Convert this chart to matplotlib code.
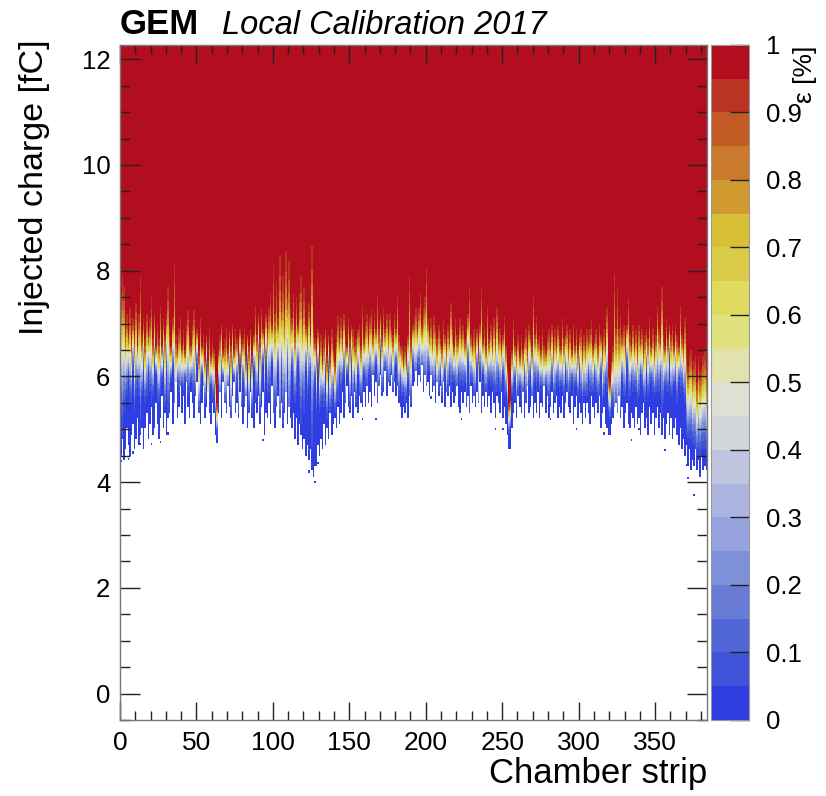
#!/usr/bin/env python3
"""GEM local calibration 2017: per-strip S-curve efficiency map."""

import math

import numpy as np
import matplotlib

matplotlib.use("Agg")
import matplotlib.pyplot as plt
from matplotlib.colors import ListedColormap, BoundaryNorm

plt.rcParams["font.family"] = ["Liberation Sans", "DejaVu Sans"]

# charge [fC] at which each strip reaches ~95 % efficiency (start of red)
Q_TOP = [
    7.5, 7.9, 7.7, 6.9, 7.2, 6.8, 7.3, 6.7, 7.1, 6.8, 7.4, 6.6, 7.2, 7.9, 6.8, 7.1,
    6.7, 7.2, 6.8, 7.1, 7.5, 6.7, 7.2, 6.6, 7.0, 6.7, 7.35, 6.6, 7.1, 6.8, 7.2, 7.7,
    6.9, 6.6, 7.1, 8.1, 6.8, 6.5, 6.9, 7.1, 6.6, 6.9, 6.5, 7.0, 7.25, 6.7, 6.6, 7.0,
    7.25, 6.6, 6.9, 6.5, 7.1, 6.6, 6.8, 6.4, 6.8, 6.3, 6.9, 6.4, 6.7, 6.5, 6.0, 5.5,
    6.5, 6.8, 7.0, 6.5, 6.7, 6.95, 6.5, 6.9, 6.6, 7.0, 6.5, 6.9, 6.7, 6.4, 6.9, 6.6,
    6.7, 6.95, 6.4, 6.8, 6.6, 6.9, 6.4, 6.8, 7.35, 6.8, 7.2, 6.7, 7.3, 6.9, 6.7, 7.2,
    6.9, 7.3, 7.6, 7.0, 8.1, 7.2, 7.8, 7.1, 8.3, 7.3, 7.9, 7.2, 8.4, 7.5, 8.2, 7.3,
    7.1, 7.6, 6.9, 7.5, 7.0, 7.6, 7.9, 7.1, 7.7, 7.0, 6.9, 7.4, 6.8, 8.45, 7.0, 6.7,
    6.5, 6.9, 6.4, 6.8, 6.3, 6.7, 6.9, 6.4, 6.8, 6.4, 6.9, 6.5, 6.3, 6.8, 7.15, 6.7,
    7.1, 6.7, 7.2, 6.8, 6.6, 7.1, 6.7, 7.0, 6.9, 6.6, 6.7, 6.9, 7.0, 6.6, 7.35, 6.7,
    7.0, 7.2, 6.7, 7.1, 7.3, 6.8, 7.2, 6.9, 7.55, 6.9, 7.2, 6.8, 7.3, 6.9, 7.2, 6.8,
    7.2, 6.9, 6.8, 7.2, 6.9, 7.5, 6.8, 6.6, 6.6, 6.3, 6.6, 6.3, 6.8, 7.9, 6.7, 7.0,
    7.1, 7.3, 6.9, 7.3, 7.6, 7.0, 7.3, 7.5, 8.05, 7.1, 6.8, 7.1, 6.7, 7.15, 6.9, 6.7,
    7.0, 6.7, 6.6, 7.05, 6.8, 6.6, 7.0, 6.7, 7.4, 6.9, 6.6, 7.1, 6.8, 6.7, 7.1, 6.8,
    7.0, 6.7, 6.9, 7.2, 7.7, 6.8, 6.6, 6.9, 6.6, 6.9, 6.5, 7.0, 7.65, 6.7, 7.0, 6.6,
    7.3, 6.7, 7.0, 6.6, 7.1, 6.7, 7.3, 6.7, 6.9, 6.6, 6.8, 7.15, 6.6, 6.2, 5.5, 5.6,
    6.5, 7.05, 6.6, 6.5, 6.8, 6.4, 6.8, 6.5, 6.7, 6.9, 6.5, 7.0, 6.8, 6.6, 7.5, 6.8,
    7.15, 6.7, 6.8, 6.5, 6.9, 6.6, 6.5, 6.8, 6.9, 6.6, 7.0, 6.5, 6.9, 6.6, 7.0, 6.7,
    6.6, 7.1, 6.7, 6.8, 7.0, 6.6, 6.9, 6.5, 7.0, 6.6, 6.9, 6.5, 6.8, 6.9, 6.5, 6.8,
    6.6, 6.9, 6.7, 6.9, 7.05, 6.6, 6.7, 6.9, 6.6, 7.0, 6.8, 6.5, 6.9, 6.6, 7.3, 6.0,
    5.9, 6.3, 6.6, 7.95, 6.9, 7.65, 6.9, 7.15, 6.8, 7.0, 6.6, 7.0, 7.45, 6.8, 6.6, 7.0,
    6.6, 6.9, 6.5, 7.0, 6.7, 6.9, 6.5, 6.8, 6.9, 6.7, 7.1, 6.6, 6.9, 6.5, 6.8, 7.35,
    6.9, 6.7, 7.7, 6.8, 6.6, 7.1, 6.7, 7.0, 6.8, 7.0, 6.6, 7.0, 6.8, 6.6, 7.35, 6.8,
    6.6, 7.1, 6.5, 6.2, 6.4, 6.5, 6.1, 6.3, 6.4, 5.9, 6.4, 6.1, 6.2, 6.4, 6.5, 6.1,
]

# rise of each S-curve: distance [fC] from the 50 % point up to the red edge
Q_RISE = [
    1.1, 1.5, 1.2, 0.7, 0.8, 0.4, 0.9, 0.6, 0.5, 0.75, 0.9, 0.35, 0.8, 1.5, 0.6, 0.5,
    0.6, 0.8, 0.35, 0.7, 1.0, 0.55, 0.5, 0.3, 0.75, 0.6, 0.85, 0.35, 0.5, 0.7, 0.55, 1.2,
    0.7, 0.35, 0.5, 1.6, 0.75, 0.3, 0.6, 0.8, 0.4, 0.65, 0.3, 0.7, 0.8, 0.5, 0.35, 0.65,
    0.8, 0.5, 0.35, 0.6, 0.75, 0.3, 0.65, 0.45, 0.35, 0.55, 0.7, 0.3, 0.6, 0.45, 0.4, 0.3,
    0.35, 0.7, 0.5, 0.3, 0.65, 0.8, 0.4, 0.45, 0.7, 0.5, 0.3, 0.75, 0.4, 0.55, 0.35, 0.7,
    0.4, 0.75, 0.5, 0.3, 0.65, 0.45, 0.55, 0.35, 0.9, 0.6, 0.45, 0.7, 0.8, 0.35, 0.6, 0.5,
    0.65, 0.8, 1.0, 0.4, 1.6, 0.9, 1.3, 0.5, 1.8, 0.6, 1.4, 0.85, 1.9, 0.7, 1.7, 0.9,
    0.5, 1.0, 0.7, 0.9, 0.4, 1.0, 1.4, 0.75, 1.2, 0.45, 0.7, 0.8, 0.35, 1.9, 0.75, 0.4,
    0.6, 0.4, 0.55, 0.7, 0.35, 0.65, 0.45, 0.6, 0.35, 0.55, 0.75, 0.4, 0.5, 0.65, 0.8, 0.35,
    0.7, 0.4, 0.6, 0.75, 0.3, 0.55, 0.65, 0.4, 0.7, 0.35, 0.6, 0.45, 0.7, 0.5, 0.9, 0.35,
    0.6, 0.75, 0.35, 0.55, 0.8, 0.45, 0.65, 0.35, 1.0, 0.6, 0.4, 0.55, 0.75, 0.4, 0.65, 0.5,
    0.7, 0.4, 0.55, 0.65, 0.35, 0.9, 0.6, 0.35, 0.5, 0.3, 0.55, 0.35, 0.45, 1.4, 0.6, 0.4,
    0.6, 0.75, 0.35, 0.6, 0.95, 0.45, 0.7, 0.85, 1.35, 0.5, 0.35, 0.7, 0.4, 0.75, 0.45, 0.55,
    0.65, 0.35, 0.5, 0.7, 0.4, 0.55, 0.65, 0.3, 0.85, 0.5, 0.35, 0.7, 0.55, 0.35, 0.65, 0.45,
    0.6, 0.4, 0.7, 0.5, 1.2, 0.45, 0.35, 0.65, 0.5, 0.4, 0.6, 0.45, 1.1, 0.35, 0.7, 0.45,
    0.8, 0.4, 0.6, 0.35, 0.7, 0.5, 0.8, 0.35, 0.6, 0.45, 0.4, 0.75, 0.5, 0.4, 0.3, 0.3,
    0.45, 0.7, 0.35, 0.55, 0.6, 0.3, 0.65, 0.45, 0.35, 0.7, 0.5, 0.6, 0.4, 0.55, 0.95, 0.45,
    0.75, 0.4, 0.6, 0.35, 0.65, 0.5, 0.35, 0.6, 0.7, 0.4, 0.55, 0.45, 0.65, 0.35, 0.6, 0.5,
    0.4, 0.7, 0.55, 0.35, 0.65, 0.5, 0.6, 0.3, 0.7, 0.4, 0.55, 0.45, 0.35, 0.65, 0.5, 0.6,
    0.5, 0.65, 0.35, 0.6, 0.7, 0.45, 0.35, 0.6, 0.5, 0.7, 0.4, 0.55, 0.65, 0.35, 0.8, 0.35,
    0.35, 0.4, 0.6, 1.7, 0.8, 1.5, 0.8, 1.0, 0.45, 0.7, 0.5, 0.4, 0.95, 0.6, 0.35, 0.65,
    0.4, 0.6, 0.5, 0.7, 0.35, 0.55, 0.45, 0.65, 0.4, 0.55, 0.7, 0.35, 0.6, 0.45, 0.55, 0.8,
    0.6, 0.35, 1.2, 0.65, 0.4, 0.7, 0.5, 0.35, 0.6, 0.7, 0.4, 0.55, 0.65, 0.35, 0.85, 0.5,
    0.5, 0.8, 0.8, 0.7, 0.8, 0.85, 0.7, 0.8, 0.9, 0.7, 0.9, 0.8, 0.8, 0.9, 0.95, 0.8,
]

# lowest charge with a non-zero efficiency [fC]
Q_LOW = [
    4.5, 4.8, 4.4, 4.6, 5.0, 4.7, 4.5, 4.9, 5.1, 4.6, 4.8, 5.2, 4.7, 4.9, 5.0, 4.6,
    5.0, 5.3, 4.8, 5.1, 5.4, 4.9, 5.0, 5.5, 5.1, 4.8, 5.2, 5.6, 5.0, 5.3, 4.9, 5.2,
    5.3, 5.7, 5.1, 5.5, 5.9, 5.2, 5.4, 5.8, 5.3, 5.6, 5.1, 5.9, 5.4, 5.2, 5.7, 5.5,
    5.2, 5.6, 5.9, 5.3, 5.1, 5.5, 5.8, 5.2, 5.4, 5.7, 5.3, 5.1, 5.5, 5.3, 4.9, 4.75,
    5.3, 5.7, 5.2, 5.9, 5.5, 5.3, 5.8, 5.4, 5.2, 5.6, 5.9, 5.3, 5.5, 5.2, 5.7, 5.4,
    5.1, 5.4, 5.6, 5.0, 5.3, 5.7, 5.2, 5.0, 5.5, 5.3, 5.6, 5.1, 5.4, 5.7, 4.9, 5.3,
    5.2, 5.5, 5.1, 5.8, 5.3, 5.0, 5.4, 5.6, 5.2, 5.5, 5.0, 5.3, 5.7, 5.1, 5.4, 5.2,
    5.0, 5.3, 4.8, 5.2, 4.7, 5.1, 4.9, 4.6, 4.8, 4.5, 4.7, 4.4, 4.6, 4.2, 4.1, 4.3,
    4.3, 4.7, 4.5, 4.8, 4.6, 5.1, 4.7, 5.0, 4.8, 5.3, 4.9, 5.1, 5.2, 5.0, 5.4, 5.1,
    5.3, 5.7, 5.2, 5.5, 5.8, 5.4, 5.3, 5.6, 5.2, 5.7, 5.4, 5.3, 5.6, 5.5, 5.4, 5.7,
    5.4, 5.8, 5.5, 5.7, 5.4, 6.0, 5.6, 5.9, 5.5, 5.8, 6.0, 5.6, 5.7, 6.1, 5.6, 5.9,
    5.8, 6.0, 5.7, 5.9, 5.6, 5.8, 5.5, 5.4, 5.2, 5.4, 5.3, 5.5, 5.2, 5.6, 5.4, 5.8,
    5.9, 6.1, 5.8, 6.0, 5.9, 6.2, 5.7, 6.0, 5.8, 5.9, 5.6, 6.0, 5.7, 5.8, 5.5, 5.9,
    5.6, 5.8, 5.5, 5.9, 5.4, 5.7, 5.6, 5.8, 5.4, 5.7, 5.5, 5.6, 5.8, 5.4, 5.3, 5.7,
    5.5, 5.7, 5.4, 5.6, 5.3, 5.8, 5.5, 5.6, 5.4, 5.7, 5.5, 5.9, 5.3, 5.6, 5.4, 5.7,
    5.4, 5.6, 5.3, 5.7, 5.5, 5.2, 5.6, 5.5, 5.3, 5.7, 5.2, 5.4, 5.1, 4.9, 4.6, 4.6,
    5.0, 5.3, 5.5, 5.2, 5.6, 5.4, 5.3, 5.7, 5.2, 5.5, 5.8, 5.3, 5.4, 5.6, 5.2, 5.5,
    5.3, 5.7, 5.2, 5.5, 5.4, 5.8, 5.3, 5.6, 5.2, 5.4, 5.7, 5.3, 5.5, 5.6, 5.2, 5.4,
    5.3, 5.6, 5.2, 5.5, 5.7, 5.4, 5.3, 5.6, 5.1, 5.4, 5.6, 5.2, 5.5, 5.3, 5.1, 5.5,
    5.2, 5.5, 5.3, 5.1, 5.6, 5.4, 5.2, 5.5, 5.3, 5.6, 5.0, 5.3, 5.4, 5.1, 5.0, 4.9,
    4.9, 5.1, 5.2, 5.4, 5.5, 5.3, 5.6, 5.2, 5.4, 5.0, 5.3, 5.5, 5.1, 5.0, 5.3, 5.2,
    5.0, 5.4, 5.1, 5.2, 4.9, 5.3, 5.5, 5.0, 5.2, 4.9, 5.4, 5.1, 5.3, 4.9, 5.2, 5.4,
    5.0, 5.3, 4.9, 5.2, 4.8, 5.1, 5.3, 4.9, 5.2, 4.8, 5.0, 5.2, 4.9, 4.7, 5.0, 4.6,
    4.8, 4.5, 4.7, 4.3, 4.6, 4.2, 4.4, 4.3, 4.6, 4.2, 4.4, 4.1, 4.5, 4.2, 4.3, 4.2,
]

# isolated low-efficiency hits below the main band
DOT_STRIP = [0, 5, 8, 13, 20, 26, 31, 93, 123, 127, 129, 158, 167, 203, 223,
             245, 250, 281, 298, 316, 334, 339, 356, 370, 371, 375]
DOT_Q = [4.4, 4.45, 4.55, 4.7, 4.7, 4.75, 4.9, 4.8, 4.2, 4.0, 4.35, 5.2, 5.2,
         5.6, 5.2, 5.0, 5.0, 5.2, 5.0, 4.9, 4.8, 5.0, 4.6, 4.3, 4.1, 3.78]
DOT_EFF = 0.02

PALETTE = [
    "#2e3ee2", "#3e52da", "#5066d6", "#687cd6", "#7f90da",
    "#96a3de", "#abb5e0", "#bfc5df", "#d2d6d9", "#dee0d4",
    "#e2e2ae", "#e1e27e", "#dfdb5e", "#dbcb4a", "#d7c035",
    "#d09a30", "#c97a2c", "#c25a26", "#ba3424", "#b20e1f",
]

N_STRIPS = len(Q_TOP)
Q_STEP = 0.04
Q_MIN, Q_MAX = -0.5, 12.3


def efficiency_map():
    top = np.array(Q_TOP)
    rise = np.array(Q_RISE)
    low = np.array(Q_LOW)
    mid = top - rise
    sigma = rise / 1.645
    q_edges = np.arange(Q_MIN, Q_MAX + 1e-9, Q_STEP)
    qc = 0.5 * (q_edges[:-1] + q_edges[1:])
    erf = np.vectorize(math.erf)
    arg = (qc[:, None] - mid[None, :]) / (math.sqrt(2.0) * sigma[None, :])
    z = 0.5 * (1.0 + erf(arg))
    z[qc[:, None] < low[None, :]] = np.nan
    for s, q in zip(DOT_STRIP, DOT_Q):
        z[int((q - Q_MIN) / Q_STEP), s] = DOT_EFF
    return q_edges, z


def main():
    q_edges, z = efficiency_map()
    s_edges = np.arange(N_STRIPS + 1)

    fig = plt.figure(figsize=(8.26, 7.96), dpi=100)
    fig.patch.set_facecolor("white")
    ax = fig.add_axes([0.1453, 0.0955, 0.7107, 0.848])
    cax = fig.add_axes([0.8608, 0.0955, 0.046, 0.848])

    cmap = ListedColormap(PALETTE)
    norm = BoundaryNorm(np.linspace(0, 1, 21), cmap.N)
    mesh = ax.pcolormesh(s_edges, q_edges, np.clip(z, 0, 0.9999),
                         cmap=cmap, norm=norm, shading="flat", rasterized=True)

    ax.set_xlim(0, N_STRIPS)
    ax.set_ylim(-0.5, 12.27)
    ax.set_xticks(np.arange(0, 351, 50))
    ax.set_xticks(np.arange(0, N_STRIPS + 1, 10), minor=True)
    ax.set_yticks(np.arange(0, 13, 2))
    ax.set_yticks(np.arange(-0.5, 12.3, 0.5), minor=True)
    ax.tick_params(which="both", direction="in", top=True, right=True,
                   color="#222222", width=1.0)
    ax.tick_params(axis="x", which="major", length=13, labelsize=19, pad=8)
    ax.tick_params(axis="x", which="minor", length=6.5)
    ax.tick_params(axis="y", which="major", length=14.5, labelsize=18.5, pad=7)
    ax.tick_params(axis="y", which="minor", length=7)
    for sp in ax.spines.values():
        sp.set_color("#777777")
        sp.set_linewidth(1.0)

    cb = fig.colorbar(mesh, cax=cax, ticks=np.linspace(0, 1, 11))
    cb.ax.set_yticklabels(["0", "0.1", "0.2", "0.3", "0.4", "0.5",
                           "0.6", "0.7", "0.8", "0.9", "1"])
    cb.ax.tick_params(direction="in", length=14, width=1.0, color="#222222",
                      labelsize=18.5, pad=12)
    cb.ax.minorticks_off()
    cb.outline.set_edgecolor("#999999")
    cb.outline.set_linewidth(0.8)

    fig.text(0.975, 0.943, "ε [%]", rotation=90, ha="center", va="top",
             fontsize=19)
    fig.text(0.042, 0.95, "Injected charge [fC]", rotation=90, ha="center",
             va="top", fontsize=24.5)
    fig.text(0.856, 0.016, "Chamber strip", ha="right", va="baseline",
             fontsize=25)
    fig.text(0.145, 0.957, "GEM", ha="left", va="baseline", fontsize=25,
             fontweight="bold")
    fig.text(0.269, 0.957, "Local Calibration 2017", ha="left", va="baseline",
             fontsize=23.5, fontstyle="italic")

    fig.savefig("out.png", dpi=100, facecolor="white")
    plt.close(fig)


if __name__ == "__main__":
    main()
